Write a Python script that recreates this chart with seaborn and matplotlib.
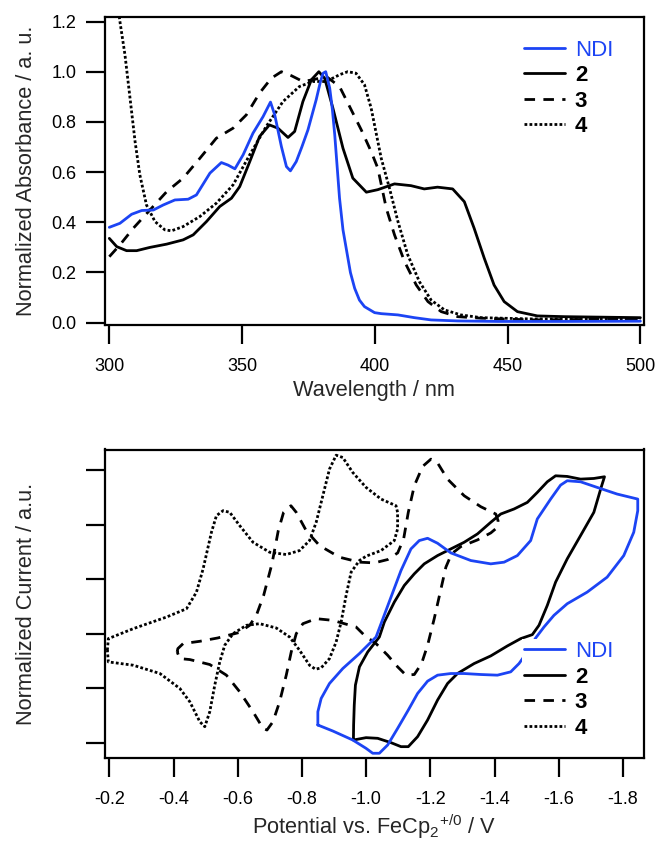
import matplotlib
matplotlib.use("Agg")
import matplotlib.pyplot as plt
from matplotlib.lines import Line2D
import seaborn as sns

# ---------------- UV-vis data (wavelength / nm, normalized absorbance) -------------
ndi_wl = [300.0, 304.0, 308.4, 312.2, 316.6, 320.3, 324.7, 329.7, 332.8, 337.9, 342.2,
          344.7, 347.3, 350.4, 354.1, 357.9, 360.7, 362.3, 364.8, 366.7, 368.2, 370.4,
          372.5, 374.8, 377.9, 379.5, 380.5, 381.5, 383.0, 384.0, 384.9, 386.7, 388.0,
          389.2, 390.8, 392.4, 394.2, 396.1, 399.9, 402.4, 408.7, 414.9, 421.2, 431.2,
          446.3, 471.3, 500.0]
ndi_abs = [0.380, 0.396, 0.432, 0.447, 0.449, 0.469, 0.489, 0.492, 0.509, 0.596, 0.638,
           0.628, 0.613, 0.669, 0.755, 0.821, 0.879, 0.828, 0.702, 0.622, 0.605, 0.642,
           0.700, 0.768, 0.888, 0.960, 0.994, 1.000, 0.935, 0.850, 0.748, 0.496, 0.370,
           0.297, 0.200, 0.137, 0.090, 0.064, 0.040, 0.036, 0.031, 0.020, 0.011, 0.007,
           0.005, 0.005, 0.006]

c2_wl = [300.0, 302.8, 306.5, 310.3, 315.3, 321.6, 327.8, 331.6, 336.6, 341.6, 346.0,
         349.1, 352.9, 356.6, 360.3, 363.5, 367.3, 369.8, 372.9, 376.1, 378.9, 381.1,
         384.2, 388.0, 391.7, 396.8, 401.1, 407.4, 413.6, 418.6, 423.6, 429.3, 433.7,
         437.4, 441.2, 444.9, 448.7, 453.7, 461.2, 471.3, 500.0]
c2_abs = [0.336, 0.303, 0.287, 0.287, 0.300, 0.313, 0.330, 0.350, 0.403, 0.463, 0.496,
          0.542, 0.642, 0.742, 0.788, 0.775, 0.738, 0.762, 0.881, 0.968, 1.000, 0.974,
          0.855, 0.695, 0.576, 0.520, 0.530, 0.553, 0.546, 0.533, 0.540, 0.533, 0.482,
          0.376, 0.257, 0.150, 0.084, 0.044, 0.027, 0.024, 0.020]

c3_wl = [300.0, 304.0, 309.0, 315.3, 321.6, 327.8, 334.1, 340.3, 346.6, 351.6, 356.6,
         361.0, 364.8, 368.6, 372.9, 376.7, 381.7, 386.7, 390.5, 394.9, 398.6, 401.1,
         404.3, 407.4, 411.2, 415.6, 420.0, 425.0, 431.2, 440.0, 458.8, 500.0]
c3_abs = [0.263, 0.310, 0.376, 0.449, 0.522, 0.576, 0.655, 0.735, 0.775, 0.828, 0.915,
          0.974, 1.000, 0.984, 0.961, 0.968, 0.981, 0.941, 0.861, 0.768, 0.682, 0.616,
          0.456, 0.350, 0.243, 0.150, 0.084, 0.044, 0.024, 0.018, 0.011, 0.015]

c4_wl = [303.2, 304.0, 305.9, 307.8, 309.7, 311.5, 314.0, 317.2, 320.9, 323.4, 327.8,
         334.1, 340.3, 346.6, 352.9, 359.1, 365.4, 371.6, 376.7, 381.7, 386.7, 389.8,
         392.9, 396.1, 398.6, 402.4, 405.5, 408.7, 412.4, 416.8, 421.2, 426.2, 432.4,
         440.0, 458.8, 500.0]
c4_abs = [1.260, 1.200, 1.067, 0.895, 0.722, 0.589, 0.469, 0.403, 0.370, 0.366, 0.383,
          0.423, 0.476, 0.549, 0.669, 0.782, 0.881, 0.941, 0.961, 0.961, 0.988, 1.000,
          0.994, 0.948, 0.855, 0.655, 0.536, 0.403, 0.270, 0.163, 0.090, 0.051, 0.031,
          0.020, 0.015, 0.015]

# ---------------- CV data (potential / V vs FeCp2, normalized current) -------------
ndi_E = [-0.8496, -0.8496, -0.8599, -0.8858, -0.9273, -0.9791, -1.0309, -1.0775, -1.1086,
         -1.1396, -1.1655, -1.1914, -1.2225, -1.2639, -1.3261, -1.3882, -1.4297, -1.4711,
         -1.5125, -1.5332, -1.5747, -1.6057, -1.6264, -1.6679, -1.7197, -1.7818, -1.8461,
         -1.8461, -1.8336, -1.8025, -1.7507, -1.6886, -1.6264, -1.5850, -1.5540, -1.5281,
         -1.5021, -1.4763, -1.4504, -1.4090, -1.3571, -1.3054, -1.2639, -1.2225, -1.1914,
         -1.1603, -1.1313, -1.0982, -1.0671, -1.0412, -1.0205, -0.9998, -0.9583, -0.8962,
         -0.8496]
ndi_I = [0.324, 0.567, 0.811, 1.085, 1.360, 1.634, 1.938, 2.670, 3.157,
         3.553, 3.706, 3.748, 3.657, 3.480, 3.340, 3.279, 3.310, 3.431,
         3.706, 4.102, 4.467, 4.723, 4.803, 4.784, 4.681, 4.559, 4.467,
         4.254, 3.858, 3.431, 3.035, 2.761, 2.548, 2.335, 2.121, 1.920,
         1.664, 1.451, 1.299, 1.238, 1.250, 1.268, 1.268, 1.238, 1.128,
         0.903, 0.598, 0.263, -0.042, -0.194, -0.194, -0.104, 0.049, 0.214,
         0.324]

c2_E = [-0.9604, -0.9610, -0.9630, -0.9666, -0.9791, -1.0050, -1.0412, -1.0568, -1.0878,
        -1.1189, -1.1500, -1.1810, -1.2225, -1.2639, -1.3054, -1.3468, -1.3882, -1.4193,
        -1.4607, -1.5021, -1.5332, -1.5643, -1.5902, -1.6264, -1.6679, -1.7093, -1.7425,
        -1.7321, -1.7093, -1.6679, -1.6264, -1.5902, -1.5643, -1.5384, -1.5177, -1.4815,
        -1.4400, -1.3882, -1.3364, -1.2846, -1.2536, -1.2225, -1.1914, -1.1603, -1.1313,
        -1.1086, -1.0775, -1.0360, -0.9998, -0.9604]
c2_I = [0.049, 0.324, 0.689, 1.055, 1.390, 1.664, 1.938, 2.213, 2.578,
        2.883, 3.096, 3.279, 3.431, 3.553, 3.675, 3.828, 4.041, 4.193,
        4.285, 4.406, 4.589, 4.784, 4.894, 4.882, 4.833, 4.845, 4.876,
        4.681, 4.224, 3.797, 3.371, 2.944, 2.517, 2.152, 1.981, 1.908,
        1.774, 1.591, 1.451, 1.268, 1.085, 0.781, 0.415, 0.110, -0.073,
        -0.073, 0.000, 0.080, 0.092, 0.049]

c3_E = [-0.4114, -0.4135, -0.4300, -0.4819, -0.5378, -0.6030, -0.6372, -0.6580, -0.6807,
        -0.7066, -0.7263, -0.7429, -0.7657, -0.7823, -0.8133, -0.8548, -0.9169, -0.9791,
        -1.0257, -1.0671, -1.0982, -1.1168, -1.1313, -1.1500, -1.1759, -1.2018, -1.2204,
        -1.2536, -1.3054, -1.3571, -1.4038, -1.4110, -1.4090, -1.3882, -1.3468, -1.2950,
        -1.2660, -1.2484, -1.2308, -1.2121, -1.1914, -1.1727, -1.1500, -1.1241, -1.0982,
        -1.0671, -1.0308, -0.9946, -0.9687, -0.8962, -0.8444, -0.8030, -0.7823, -0.7667,
        -0.7512, -0.7305, -0.7097, -0.6911, -0.6787, -0.6476, -0.6062, -0.5647, -0.5129,
        -0.4508, -0.4197, -0.4114]
c3_I = [1.664, 1.725, 1.817, 1.859, 1.920, 2.018, 2.152, 2.335, 2.700,
        3.279, 3.888, 4.224, 4.345, 4.224, 3.888, 3.614, 3.401, 3.310,
        3.297, 3.358, 3.480, 3.736, 4.224, 4.711, 5.065, 5.199, 5.150,
        4.833, 4.528, 4.327, 4.193, 4.071, 3.949, 3.846, 3.718, 3.596,
        3.462, 3.218, 2.761, 2.274, 1.786, 1.451, 1.250, 1.238, 1.390,
        1.603, 1.817, 1.969, 2.121, 2.243, 2.274, 2.182, 1.999, 1.664,
        1.238, 0.750, 0.384, 0.232, 0.263, 0.567, 0.933, 1.238, 1.433,
        1.524, 1.542, 1.664]

c4_E = [-0.1939, -0.1970, -0.2747, -0.3783, -0.4404, -0.4715, -0.4922, -0.5181, -0.5337,
        -0.5544, -0.5751, -0.6062, -0.6476, -0.6994, -0.7512, -0.7926, -0.8237, -0.8444,
        -0.8651, -0.8858, -0.9066, -0.9273, -0.9583, -0.9998, -1.0464, -1.0930, -1.0980,
        -1.0980, -1.0878, -1.0464, -1.0000, -0.9791, -0.9532, -0.9376, -0.9221, -0.9066,
        -0.8858, -0.8599, -0.8423, -0.8237, -0.7926, -0.7615, -0.7201, -0.6683, -0.6269,
        -0.5854, -0.5595, -0.5440, -0.5285, -0.5129, -0.4974, -0.4819, -0.4508, -0.4197,
        -0.3576, -0.2747, -0.1970, -0.1939]
c4_I = [1.695, 1.908, 2.091, 2.304, 2.456, 2.761, 3.188, 3.858, 4.163,
        4.254, 4.224, 3.980, 3.675, 3.492, 3.450, 3.523, 3.706, 4.041,
        4.528, 5.016, 5.272, 5.229, 4.955, 4.681, 4.467, 4.345, 4.224,
        3.919, 3.706, 3.523, 3.420, 3.340, 3.127, 2.700, 2.213, 1.847,
        1.542, 1.372, 1.347, 1.420, 1.695, 1.938, 2.103, 2.182, 2.152,
        1.999, 1.786, 1.481, 1.055, 0.567, 0.293, 0.384, 0.750, 0.994,
        1.268, 1.420, 1.481, 1.695]

names = ["NDI", "2", "3", "4"]
uv_data = {"NDI": (ndi_wl, ndi_abs), "2": (c2_wl, c2_abs), "3": (c3_wl, c3_abs), "4": (c4_wl, c4_abs)}
cv_data = {"NDI": (ndi_E, ndi_I), "2": (c2_E, c2_I), "3": (c3_E, c3_I), "4": (c4_E, c4_I)}

uv_xticks = [300, 350, 400, 450, 500]
uv_yticks = [0.0, 0.2, 0.4, 0.6, 0.8, 1.0, 1.2]
cv_xticks = [-0.2, -0.4, -0.6, -0.8, -1.0, -1.2, -1.4, -1.6, -1.8]
cv_yticks = [0, 1, 2, 3, 4, 5]

# ---------------- style ----------------
sns.set_style("ticks")
plt.rcParams['font.family'] = ['Liberation Sans', 'DejaVu Sans']
plt.rcParams['mathtext.fontset'] = 'custom'
plt.rcParams['mathtext.rm'] = 'Liberation Sans'
plt.rcParams['axes.unicode_minus'] = False

BLUE = '#1C44F4'
LW = 2.0
styles = {
    "NDI": dict(color=BLUE, linestyle='-'),
    "2": dict(color='black', linestyle='-'),
    "3": dict(color='black', linestyle=(0, (3.8, 3.0))),
    "4": dict(color='black', linestyle=(0, (1.0, 0.8))),
}

W, H = 655, 844
fig = plt.figure(figsize=(W / 100, H / 100), dpi=100)
fig.patch.set_facecolor('white')


def px_axes(l, t, r, b):
    return fig.add_axes([l / W, 1 - b / H, (r - l) / W, (b - t) / H])


ax1 = px_axes(104.5, 17, 643.5, 325)
ax2 = px_axes(104.5, 449.5, 643.5, 758)

draw_order = ["4", "3", "2", "NDI"]
for n in draw_order:
    x, y = uv_data[n]
    sns.lineplot(x=x, y=y, ax=ax1, sort=False, estimator=None, lw=LW, **styles[n])
    x, y = cv_data[n]
    sns.lineplot(x=x, y=y, ax=ax2, sort=False, estimator=None, lw=LW, **styles[n])

for ax in (ax1, ax2):
    for sp in ax.spines.values():
        sp.set_visible(True)
        sp.set_linewidth(1.6)
        sp.set_color('black')
    ax.tick_params(axis='both', direction='out', length=13.5, width=1.6,
                   labelsize=13, colors='black')
    ax.tick_params(axis='x', pad=10)
    ax.tick_params(axis='y', pad=6.5)
    ax.set_facecolor('white')

ax1.set_xlim(298.19, 501.17)
ax1.set_ylim(-0.0092, 1.218)
ax1.set_xticks(uv_xticks)
ax1.set_xticklabels([str(v) for v in uv_xticks])
ax1.set_yticks(uv_yticks)
ax1.set_yticklabels([f"{v:.1f}" for v in uv_yticks])
ax1.set_xlabel("Wavelength / nm", fontsize=15.7)
ax1.set_ylabel("Normalized Absorbance / a. u.", fontsize=15.7)
ax1.xaxis.set_label_coords(0.5, (325 - 380) / 308)
ax1.yaxis.set_label_coords((37 - 104.5) / 539, 0.5)

ax2.set_xlim(-0.185, -1.864)
ax2.set_ylim(-0.281, 5.376)
ax2.set_xticks(cv_xticks)
ax2.set_xticklabels([f"{v:.1f}" for v in cv_xticks])
ax2.set_yticks(cv_yticks)
ax2.set_yticklabels([])
ax2.set_xlabel(r"Potential vs. FeCp$_\mathregular{2}$$^\mathregular{+/0}$ / V", fontsize=15.7)
ax2.set_ylabel("Normalized Current / a.u.", fontsize=15.7)
ax2.xaxis.set_label_coords(0.5, (758 - 812) / 308.5)
ax2.yaxis.set_label_coords((37 - 104.5) / 539, 0.5)


def add_legend(ax, x_px, y_px, frame):
    handles = [Line2D([], [], lw=LW, **styles[n]) for n in names]
    leg = ax.legend(handles, names, loc='upper left',
                    bbox_to_anchor=(x_px / W, 1 - y_px / H), bbox_transform=fig.transFigure,
                    frameon=frame, fancybox=False, fontsize=16, handlelength=1.83,
                    handletextpad=0.45, labelspacing=0.2, borderpad=0.12,
                    borderaxespad=0)
    if frame:
        fr = leg.get_frame()
        fr.set_facecolor('white')
        fr.set_edgecolor('none')
        fr.set_alpha(1.0)
    for t, n in zip(leg.get_texts(), names):
        if n == "NDI":
            t.set_color(BLUE)
        else:
            t.set_color('black')
            t.set_fontweight('bold')
    return leg


add_legend(ax1, 521.5, 37, False)
add_legend(ax2, 521.5, 638.5, True)

fig.savefig("out.png", dpi=100)
